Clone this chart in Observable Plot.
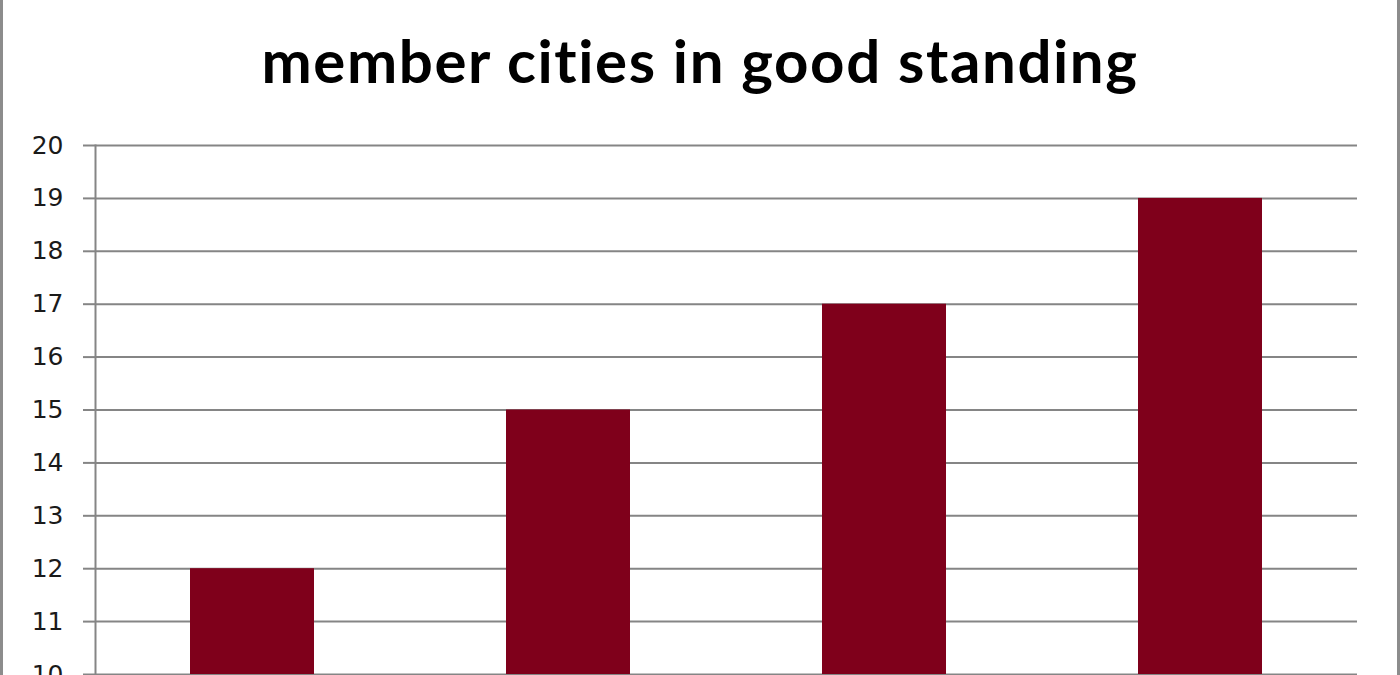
<!DOCTYPE html>
<html>
<head>
<meta charset="utf-8">
<script src="https://cdn.jsdelivr.net/npm/d3@7"></script>
<script src="https://cdn.jsdelivr.net/npm/@observablehq/plot@0.6"></script>
<style>
  html, body { margin: 0; padding: 0; background: #fff; }
  #wrap { position: relative; width: 1400px; height: 675px; overflow: hidden; background: #fff; }
  #title { position: absolute; left: 0; top: 0; width: 1400px; height: 110px; text-align: center;
           font-family: Lato, "Open Sans", sans-serif; font-weight: bold; font-size: 60px; color: #000; }
  #title .l2 { position: absolute; left: 0; right: 0; top: 25px; line-height: 70px; letter-spacing: 1.6px; }
  #chart { position: absolute; left: 0; top: 110px; }
  .bl { position: absolute; top: 0; width: 3px; height: 675px; background: #8c8c8c; }
</style>
</head>
<body>
<div id="wrap">
  <div id="title"><div class="l2">member cities in good standing</div></div>
  <div id="chart"></div>
  <div class="bl" style="left:0"></div>
  <div class="bl" style="left:1397px"></div>
</div>
<script>
const categories = ["1", "2", "3", "4"];
const values = [12, 15, 17, 19];
const yTicks = [10, 11, 12, 13, 14, 15, 16, 17, 18, 19, 20];

const data = categories.map((c, i) => ({category: c, value: values[i]}));

const chart = Plot.plot({
  width: 1400,
  height: 614,
  marginLeft: 95,
  marginRight: 43,
  marginTop: 35,
  marginBottom: 50,
  style: {fontFamily: "'DejaVu Sans', sans-serif", fontSize: "25px", color: "#1a1a1a", background: "#fff"},
  x: {domain: categories, paddingInner: 0.607, paddingOuter: 0.3, label: null, axis: null},
  y: {domain: [10, 20], ticks: yTicks, label: null},
  marks: [
    Plot.gridY(yTicks, {stroke: "#858585", strokeOpacity: 1, strokeWidth: 2}),
    Plot.barY(data, {x: "category", y1: 10, y2: "value", fill: "#7f001b"}),
    Plot.axisY(yTicks, {tickSize: 12, tickPadding: 20, stroke: "#858585", strokeWidth: 2, fill: "#1a1a1a", tickFormat: d => String(d)}),
    Plot.frame({anchor: "left", stroke: "#858585", strokeWidth: 2})
  ]
});
document.getElementById("chart").appendChild(chart);
</script>
</body>
</html>
